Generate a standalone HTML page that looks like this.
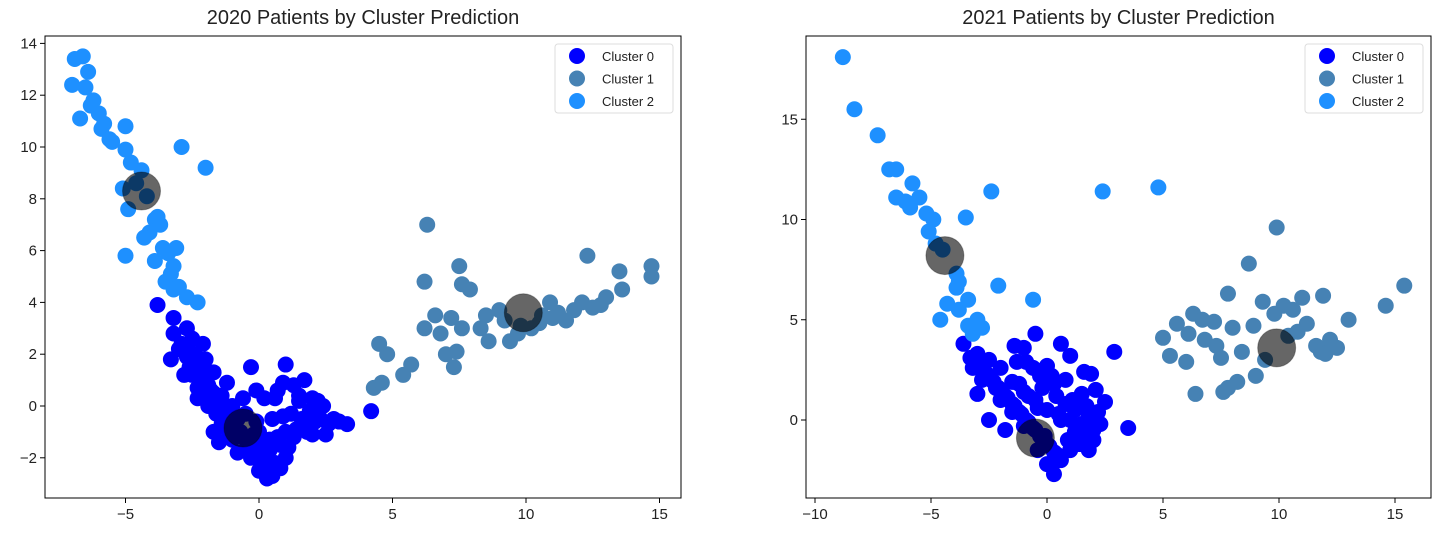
<!DOCTYPE html>
<html><head><meta charset="utf-8"><style>
body{margin:0;background:#fff;font-family:"Liberation Sans","DejaVu Sans",sans-serif}
svg{display:block}
</style></head><body>
<svg id="s" width="1452" height="543" xmlns="http://www.w3.org/2000/svg"></svg>
<script>
const L0x=[-3.8,-3.2,-3.2,-2.7,-3.0,-3.3,-2.5,-2.1,-2.6,-2.0,-2.2,-1.7,-1.8,-2.3,-1.4,-1.6,-1.2,-1.7,-1.0,-0.8,-0.3,0.0,0.3,0.5,0.6,0.8,1.0,0.5,0.2,0.6,-0.1,-0.3,1.0,1.3,1.7,1.5,1.9,2.0,2.3,2.5,2.8,3.0,3.3,2.0,1.3,1.6,-1.0,-0.5,0.1,-2.8,-2.4,-1.5,1.0,4.2,2.4,-0.6,-1.2,0.9,
-2.9,-2.6,-2.4,-2.2,-2.0,-1.9,-1.7,-1.5,-1.3,-1.1,-0.9,-0.7,-0.5,-0.3,-0.1,0.1,0.3,-2.7,-2.5,-2.3,-2.1,-1.9,-1.6,-1.4,-1.2,-1.0,-0.8,-0.6,-0.4,-0.2,0.0,0.2,0.4,0.7,0.9,1.2,1.1,0.8,0.4,-0.1,1.4,1.8,2.1,2.6,2.2,1.5,0.7];
const L0y=[3.9,3.4,2.8,3.0,2.2,1.8,2.6,2.4,1.5,1.8,1.0,1.3,0.6,0.3,0.4,-0.2,-0.5,-1.0,-1.3,-1.8,-2.0,-2.5,-2.8,-2.7,-2.2,-1.5,-1.0,-0.5,0.3,0.3,0.6,1.5,1.6,0.8,1.0,0.2,-0.2,0.3,-0.5,-1.1,-0.5,-0.6,-0.7,-1.1,-1.2,-0.5,0.0,-0.3,-1.5,1.2,2.0,-1.4,-2.0,-0.2,0.0,0.3,0.9,0.9,
2.4,2.1,1.7,1.4,1.1,0.8,0.5,0.2,-0.1,-0.4,-0.7,-1.0,-1.3,-1.6,-1.9,-2.2,-2.4,1.9,1.2,0.7,0.4,0.0,-0.3,-0.7,-0.9,-0.6,-0.5,-1.2,-1.6,-1.1,-1.0,-1.9,-1.7,-1.2,-0.4,-0.3,-1.6,-2.4,-1.3,-0.6,-0.9,-1.0,-0.6,-0.7,0.2,0.4,0.6];
const L1x=[4.3,4.6,4.5,4.8,5.4,5.7,6.2,6.3,6.2,6.6,6.8,7.2,7.0,7.3,7.4,7.5,7.6,7.9,7.6,8.3,8.5,8.6,9.0,9.4,9.7,10.2,10.5,11.0,11.5,11.8,12.1,12.3,12.5,13.0,13.5,13.6,14.7,14.7,10.9,9.2,9.8,10.6,11.2,12.8];
const L1y=[0.7,0.9,2.4,2.0,1.2,1.6,3.0,7.0,4.8,3.5,2.8,3.4,2.0,1.5,2.1,5.4,4.7,4.5,3.0,3.0,3.5,2.5,3.7,2.5,2.8,3.0,3.2,3.4,3.3,3.7,4.0,5.8,3.8,4.2,5.2,4.5,5.4,5.0,4.0,3.3,3.1,3.5,3.6,3.9];
const L2x=[-6.9,-6.6,-6.4,-7.0,-6.5,-6.2,-6.7,-6.0,-5.9,-5.0,-5.5,-5.0,-4.8,-4.4,-5.1,-4.2,-4.9,-3.9,-4.1,-4.3,-5.0,-3.6,-3.1,-3.9,-3.2,-3.5,-3.2,-2.7,-2.3,-3.0,-2.9,-2.0,-5.6,-4.6,-3.7,-3.3,-6.3,-5.8,-3.4,-3.8];
const L2y=[13.4,13.5,12.9,12.4,12.3,11.8,11.1,11.3,10.7,10.8,10.2,9.9,9.4,9.1,8.4,8.1,7.6,7.2,6.7,6.5,5.8,6.1,6.1,5.6,5.4,4.8,4.5,4.2,4.0,4.6,10.0,9.2,10.3,8.6,7.0,5.1,11.6,10.9,5.9,7.3];
const LCx=[-4.4,-0.6,9.9], LCy=[8.3,-0.85,3.6];
const R0x=[-3.6,-3.0,-2.5,-3.2,-2.8,-2.2,-3.0,-2.0,-1.4,-1.0,-0.5,-0.9,0.6,1.0,2.9,-1.5,-1.0,-0.4,0.0,0.3,0.5,1.0,1.3,1.8,2.0,2.5,2.1,1.5,1.9,3.5,0.8,0.3,-0.3,-0.4,-2.5,-1.8,0.6,1.2,-0.1,2.3,1.6,-1.2,0.0,
-3.3,-2.9,-2.6,-2.3,-2.0,-1.7,-1.4,-1.1,-0.8,-0.5,-0.2,0.1,0.4,-2.7,-2.4,-2.1,-1.8,-1.5,-1.2,-0.9,-0.6,-0.3,0.0,0.3,0.6,0.9,1.2,1.5,1.8,-2.0,-1.5,-1.0,-0.5,0.0,0.5,1.0,1.5,2.0,-0.8,-0.2,0.4,1.1,1.7,2.2,0.2,-0.6,-1.3,0.8,1.4];
const R0y=[3.8,3.3,3.0,2.6,2.0,1.6,1.3,1.0,3.7,3.6,4.3,2.9,3.8,3.2,3.4,0.4,-0.3,-1.5,-2.2,-2.7,-2.0,-1.5,-0.5,-1.5,-0.5,0.9,1.5,1.3,2.3,-0.4,0.8,1.8,2.2,0.6,0.0,-0.5,0.0,0.5,-0.8,-0.2,2.4,1.8,2.7,
3.1,2.7,2.3,1.9,1.5,1.1,0.7,0.3,-0.1,-0.5,-0.9,-1.3,-1.7,2.4,2.0,1.6,1.2,0.8,0.4,0.0,-0.4,-0.8,-1.2,-1.6,-2.0,-1.0,-0.6,-0.2,0.2,2.6,1.9,1.4,1.0,0.5,0.3,0.0,-0.8,-1.0,1.2,1.6,1.2,1.0,0.7,0.4,2.2,2.6,2.9,2.0,-1.2];
const R1x=[5.0,5.3,5.6,6.0,6.1,6.3,6.4,6.7,7.2,7.3,7.5,7.8,7.8,7.6,8.2,8.4,8.7,8.9,9.3,9.4,9.8,9.9,10.2,10.4,10.6,11.0,11.2,11.6,11.9,12.2,12.5,13.0,14.6,15.4,6.8,8.0,9.0,11.8,12.0,10.8];
const R1y=[4.1,3.2,4.8,2.9,4.3,5.3,1.3,5.0,4.9,3.7,3.1,6.3,1.6,1.4,1.9,3.4,7.8,4.7,5.9,3.0,5.3,9.6,5.7,4.2,5.5,6.1,4.8,3.7,6.2,4.0,3.6,5.0,5.7,6.7,4.0,4.6,2.2,3.4,3.3,4.4];
const R2x=[-8.8,-8.3,-7.3,-6.8,-6.5,-5.8,-6.5,-6.1,-5.5,-5.9,-5.2,-4.9,-5.1,-4.8,-4.5,-3.5,-2.4,2.4,4.8,-3.9,-2.1,-3.9,-3.4,-4.6,-3.8,-3.0,-3.2,-0.6,-3.8,-4.3,-2.8,-3.4];
const R2y=[18.1,15.5,14.2,12.5,12.5,11.8,11.1,10.9,11.1,10.6,10.3,10.0,9.4,8.8,8.5,10.1,11.4,11.4,11.6,7.3,6.7,6.6,6.0,5.0,5.5,5.0,4.3,6.0,6.9,5.8,4.6,4.7];
const RCx=[-4.4,-0.5,9.9], RCy=[8.2,-0.9,3.6];
const LxTicks=[-5,0,5,10,15], LyTicks=[-2,0,2,4,6,8,10,12,14];
const RxTicks=[-10,-5,0,5,10,15], RyTicks=[0,5,10,15];

const NS="http://www.w3.org/2000/svg", svg=document.getElementById('s');
function mk(t,a,p){const e=document.createElementNS(NS,t);for(const k in a)e.setAttribute(k,a[k]);(p||svg).appendChild(e);return e;}
function panel(name,box,x0,xs,y0,ys,xt,yt,title,sets,cx,cy){
  const g=mk('g',{});
  
  
  const X=v=>x0+v*xs, Y=v=>y0-v*ys;
  const cols=['#0000ff','#4682b4','#1e90ff'];
  sets.forEach((s,i)=>{
    const sg=mk('g',{fill:cols[i]},g);
    
    
    s[0].forEach((v,j)=>{const c=mk('circle',{cx:X(v),cy:Y(s[1][j]),r:8},sg);
      
      });
  });
  cx.forEach((v,j)=>{const c=mk('circle',{cx:X(v),cy:Y(cy[j]),r:19,fill:'#000','fill-opacity':0.6,stroke:'#000','stroke-opacity':0.3},g);
    
    });
  const r=mk('rect',{x:box[0],y:box[1],width:box[2]-box[0],height:box[3]-box[1],fill:'none',stroke:'#000','stroke-width':1},g);
  
  
  xt.forEach(v=>{const x=X(v);mk('line',{x1:x,x2:x,y1:box[3],y2:box[3]+5,stroke:'#000'},g);
    const t=mk('text',{x:x,y:box[3]+21,'text-anchor':'middle','font-size':15,fill:'#222'},g);
    t.textContent=(v<0?'\u2212':'')+Math.abs(v);
    
    });
  yt.forEach(v=>{const y=Y(v);mk('line',{x1:box[0]-5,x2:box[0],y1:y,y2:y,stroke:'#000'},g);
    const t=mk('text',{x:box[0]-8,y:y+5,'text-anchor':'end','font-size':15,fill:'#222'},g);
    t.textContent=(v<0?'\u2212':'')+Math.abs(v);
    
    });
  const tt=mk('text',{x:(box[0]+box[2])/2,y:24,'text-anchor':'middle','font-size':20,fill:'#222'},g);
  tt.textContent=title;
  
  
  const lg=mk('g',{},g);
  
  
  const lx=box[2]-126;
  mk('rect',{x:lx,y:box[1]+8,width:118,height:69,rx:3,fill:'#fff',stroke:'#ddd'},lg);
  ['Cluster 0','Cluster 1','Cluster 2'].forEach((n,i)=>{
    const yy=box[1]+20+i*22.5;
    mk('circle',{cx:lx+22,cy:yy,r:8,fill:cols[i]},lg);
    const t=mk('text',{x:lx+47,y:yy+5,'font-size':13,fill:'#222'},lg);
    t.textContent=n;
    
    
  });
}
panel('plot-2020',[45,36,681,498],259,26.7,406,25.9,LxTicks,LyTicks,'2020 Patients by Cluster Prediction',[[L0x,L0y],[L1x,L1y],[L2x,L2y]],LCx,LCy);
panel('plot-2021',[806,36,1431,498],1047,23.2,420,20.05,RxTicks,RyTicks,'2021 Patients by Cluster Prediction',[[R0x,R0y],[R1x,R1y],[R2x,R2y]],RCx,RCy);
</script>
</body></html>
